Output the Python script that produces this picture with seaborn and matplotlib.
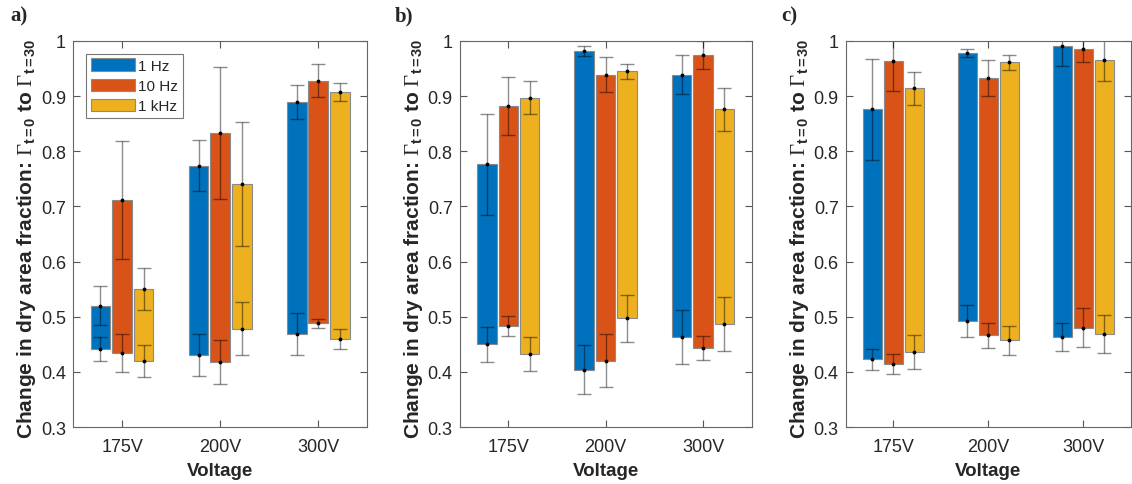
import matplotlib
matplotlib.use("Agg")
import matplotlib.pyplot as plt
import seaborn as sns
import pandas as pd

voltages = ['175V', '200V', '300V']
freqs = ['1 Hz', '10 Hz', '1 kHz']
colors = ['#0072BD', '#D95319', '#EDB120']
panel_labels = ['a)', 'b)', 'c)']

# rows = frequency (1 Hz, 10 Hz, 1 kHz), columns = voltage (175V, 200V, 300V)
a_top = [[0.520, 0.774, 0.890], [0.711, 0.833, 0.928], [0.551, 0.741, 0.907]]
a_top_err = [[0.035, 0.046, 0.031], [0.107, 0.119, 0.030], [0.038, 0.112, 0.016]]
a_bot = [[0.442, 0.431, 0.469], [0.434, 0.418, 0.488], [0.420, 0.478, 0.460]]
a_bot_err = [[0.022, 0.038, 0.038], [0.034, 0.040, 0.008], [0.029, 0.048, 0.018]]

b_top = [[0.776, 0.981, 0.939], [0.882, 0.939, 0.975], [0.897, 0.945, 0.876]]
b_top_err = [[0.091, 0.009, 0.035], [0.053, 0.032, 0.025], [0.030, 0.014, 0.039]]
b_bot = [[0.450, 0.404, 0.463], [0.483, 0.420, 0.443], [0.432, 0.497, 0.486]]
b_bot_err = [[0.032, 0.045, 0.049], [0.018, 0.048, 0.022], [0.031, 0.043, 0.049]]

c_top = [[0.876, 0.978, 0.990], [0.963, 0.933, 0.986], [0.914, 0.961, 0.966]]
c_top_err = [[0.091, 0.008, 0.035], [0.053, 0.032, 0.024], [0.030, 0.014, 0.038]]
c_bot = [[0.423, 0.492, 0.463], [0.414, 0.466, 0.480], [0.436, 0.457, 0.469]]
c_bot_err = [[0.019, 0.029, 0.026], [0.018, 0.022, 0.035], [0.031, 0.027, 0.035]]

panels = [
    (a_top, a_top_err, a_bot, a_bot_err),
    (b_top, b_top_err, b_bot, b_bot_err),
    (c_top, c_top_err, c_bot, c_bot_err),
]

sns.set_style('ticks')
plt.rcParams['font.family'] = ['Liberation Sans', 'DejaVu Sans']
plt.rcParams['mathtext.fontset'] = 'custom'
plt.rcParams['mathtext.rm'] = 'Liberation Serif'
plt.rcParams['mathtext.it'] = 'Liberation Serif:italic'
plt.rcParams['mathtext.bf'] = 'Liberation Sans:bold'

fig = plt.figure(figsize=(11.32, 4.85), dpi=100)
lefts = [0.0645, 0.406, 0.747]
widths = [0.260, 0.258, 0.252]
label_x = [0.009, 0.349, 0.690]

ylabel = (r'Change in dry area fraction: $\Gamma_{\mathbf{t=0}}$ to '
          r'$\Gamma_{\mathbf{t=30}}$')

for p, (top, top_err, bot, bot_err) in enumerate(panels):
    ax = fig.add_axes([lefts[p], 0.1175, widths[p], 0.796])
    rows = []
    for i, f in enumerate(freqs):
        for j, v in enumerate(voltages):
            rows.append({'voltage': v, 'freq': f, 'height': top[i][j] - bot[i][j]})
    df = pd.DataFrame(rows)
    sns.barplot(data=df, x='voltage', y='height', hue='freq', order=voltages,
                hue_order=freqs, palette=colors, width=0.66, gap=0.09,
                saturation=1, errorbar=None, edgecolor='#8a8a8a', linewidth=0.8,
                legend=False, ax=ax)
    bar_conts = list(ax.containers)
    # lift each bar so it floats between its bottom and top value
    for i, cont in enumerate(bar_conts):
        for j, patch in enumerate(cont.patches):
            patch.set_y(bot[i][j])
            xc = patch.get_x() + patch.get_width() / 2
            for yv, ye in [(top[i][j], top_err[i][j]), (bot[i][j], bot_err[i][j])]:
                ax.errorbar(xc, yv, yerr=ye, fmt='.', color='black', ecolor=(0, 0, 0, 0.45),
                            markersize=3.5, elinewidth=1.0, capsize=4.8, capthick=1.0)

    ax.set_ylim(0.3, 1.0)
    ax.set_xlim(-0.5, 2.5)
    ax.set_yticks([0.3, 0.4, 0.5, 0.6, 0.7, 0.8, 0.9, 1.0])
    ax.set_yticklabels(['0.3', '0.4', '0.5', '0.6', '0.7', '0.8', '0.9', '1'])
    ax.tick_params(direction='in', top=True, right=True, length=5, width=0.8,
                   color='#555555', labelcolor='#262626', labelsize=13)
    ax.tick_params(axis='x', pad=8)
    ax.tick_params(axis='y', pad=5)
    for s in ax.spines.values():
        s.set_color('#666666')
        s.set_linewidth(0.8)
    ax.set_xlabel('Voltage', fontsize=13.5, fontweight='bold', color='#262626', labelpad=5)
    ax.set_ylabel(ylabel, fontsize=15, fontweight='bold', color='#262626')
    ax.yaxis.set_label_coords(-0.12, 0.49)

    fig.text(label_x[p], 0.965, panel_labels[p], fontsize=15, fontweight='bold',
             family='Liberation Serif', va='center')

    if p == 0:
        leg = ax.legend(handles=[c.patches[0] for c in bar_conts], labels=freqs,
                        loc='upper left', bbox_to_anchor=(0.035, 0.975), fontsize=11,
                        frameon=True, fancybox=False, edgecolor='#555555',
                        handlelength=2.9, handleheight=0.9, handletextpad=0.2,
                        labelspacing=0.37, borderpad=0.3, borderaxespad=0.2)
        leg.get_frame().set_linewidth(0.8)

fig.savefig('out.png', dpi=100)
